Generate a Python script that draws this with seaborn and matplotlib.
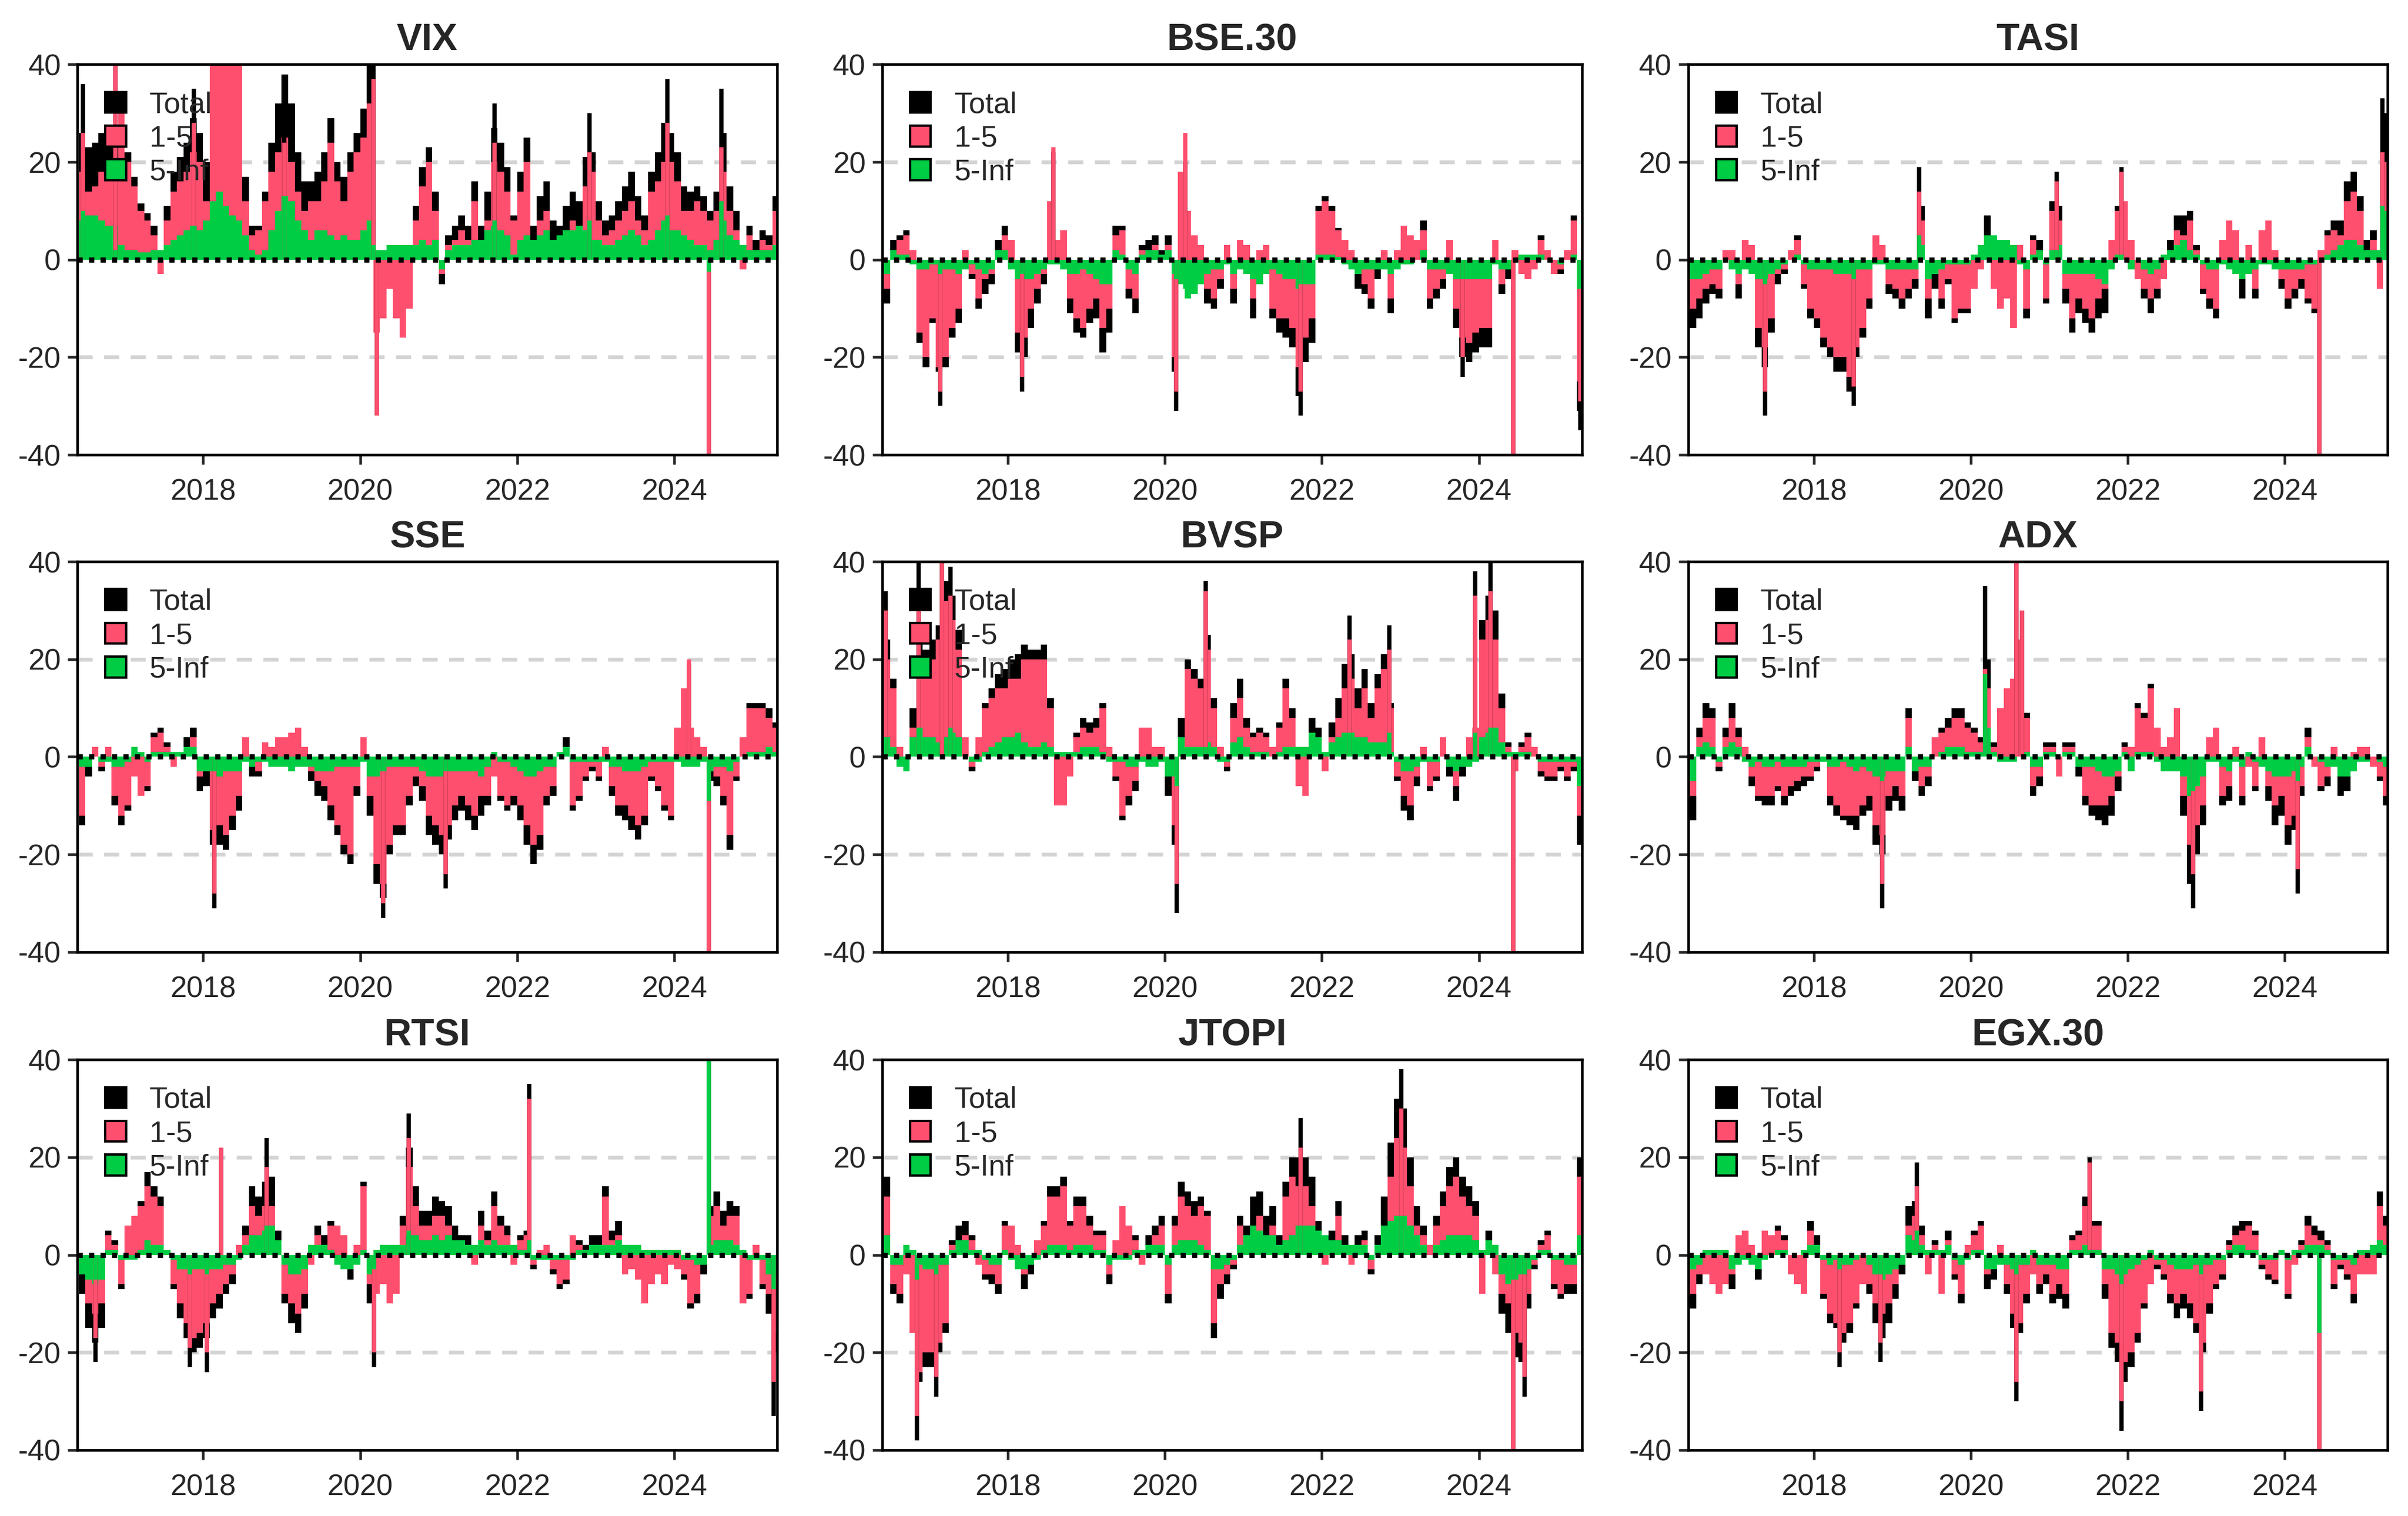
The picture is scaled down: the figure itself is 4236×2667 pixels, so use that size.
"""
Frequency-decomposed net connectedness, 3x3 panel figure.
"""

# %% Imports
import numpy as np
import pandas as pd
import seaborn as sns
from matplotlib import pyplot as plt
from matplotlib.patches import Patch

# %% Data (monthly readings, Jun 2016 - Apr 2025)
MONTHS = pd.period_range("2016-06", "2025-04", freq="M")
MONTH_X = MONTHS.year + (MONTHS.month - 1) / 12 + 1 / 24

PANELS = ["VIX", "BSE.30", "TASI", "SSE", "BVSP", "ADX", "RTSI", "JTOPI", "EGX.30"]

vix_short = [18, 14, 15, 18, 16, 18, 30,
             20, 15, 10, 8, 5, -3, 8, 14, 16, 18, 22, 20,
             12, 42, 42, 42, 42, 42, 12, 5, 6, 12, 18, 22,
             25, 20, 14, 10, 12, 12, 16, 24, 16, 12, 18, 22,
             25, 32, -15, -12, -6, -12, -16, -10, 8, 15, 20, 10,
             -3, 3, 4, 6, 4, 12, 3, 8, 20, 18, 14, 8,
             14, 20, 3, 8, 10, 4, 2, 5, 8, 5, 15, 18,
             8, 5, 6, 8, 10, 12, 8, 6, 14, 16, 20, 20,
             16, 10, 10, 12, 10, 8, 10, 18, 10, 6, -2, 5,
             2, 4, 3, 10]
vix_long = [8, 9, 9, 8, 7, 7, 3,
            2, 2, 1.5, 1.5, 2, 2, 3, 4, 5, 6, 7, 6,
            8, 12, 14, 11, 9, 8, 5, 2, 1, 2, 6, 10,
            13, 12, 8, 6, 4, 6, 6, 5, 4, 5, 4, 4,
            6, 8, 2, 2, 3, 3, 3, 3, 3, 4, 3, 4,
            -2, 2, 3, 3, 3, 4, 4, 6, 7, 6, 5, 1,
            4, 5, 4, 5, 6, 4, 5, 6, 6, 7, 6, 4,
            4, 3, 3, 4, 5, 6, 5, 3, 4, 6, 8, 6,
            6, 5, 4, 3, 3, 2, 4, 8, 5, 4, 3, 2,
            2, 2, 2, 3]

bse_short = [-6, 2, 4, 5, 2, -15, -20,
             -12, -22, -20, -14, -10, 2, -3, -8, -4, -3, 2, 5,
             4, -15, -16, -10, -6, -3, 12, 4, 6, -8, -12, -14,
             -10, -8, -14, -10, 5, 6, -6, -8, 2, 2, 3, 1,
             3, -20, 18, 10, 5, 3, -6, -8, -4, 3, -6, 4,
             3, -8, 2, 3, -10, -12, -12, -14, -22, -16, -12, 10,
             12, 10, 6, 4, 2, -3, -5, -8, -2, 2, -8, 2,
             7, 5, 4, 6, -8, -6, -4, 4, -10, -16, -17, -15,
             -14, -14, 4, -5, -2, 2, -3, -4, -2, 4, 2, -3,
             -2, 2, 8, -25]
bse_long = [-3, 2, 1, 1, -1, -2, -2,
            -1, -1, -2, -2, -3, -2, -1, -2, -3, -2, 2, 2,
            -2, -4, -4, -4, -3, -2, -1, -1, -2, -3, -3, -2,
            -3, -4, -5, -5, 2, 1, -2, -3, 1, 2, 2, 1,
            2, -3, -5, -8, -7, -5, -3, -2, -2, -1, -3, -2,
            -3, -4, -5, -3, -2, -3, -4, -4, -6, -5, -5, 1,
            1, 1, 0.5, -1, -2, -3, -2, -2, -2, -2, -3, -2,
            -1, -1, 0, 2, -2, -2, -2, -3, -4, -4, -4, -4,
            -4, -4, -1, -2, -2, 0, 1, 1, 1, 1, 0, 0,
            -1, 0, 1, -6]

tasi_short = [-10, -8, -6, -5, -6, 2, 2,
              -5, 4, 3, -14, -18, -12, -3, -2, 2, 4, -5, -10,
              -12, -16, -18, -20, -20, -24, -18, -14, -8, 5, 3, -5,
              -6, -8, -6, -4, 8, -8, -3, -8, -4, -12, -10, -10,
              -6, -2, 4, -6, -10, -8, -14, 3, -10, 4, 2, -8,
              10, 8, -6, -12, -8, -10, -12, -8, -6, 4, 10, 12,
              4, -4, -6, -8, -6, -4, 2, 6, 5, 8, 2, -6,
              -8, -10, 4, 8, 6, -4, 3, -6, 6, 8, 2, -4,
              -8, -6, -4, -8, -10, 2, 5, 6, 5, 12, 14, 10,
              2, 4, -6, 20]
tasi_long = [-4, -4, -3, -2, -2, 0, -2,
             -3, -2, -3, -4, -4, -3, -2, -1, 0, 1, -1, -2,
             -2, -2, -2, -3, -3, -3, -2, -2, -2, -1, -1, -2,
             -2, -2, -2, -2, 3, -4, -3, -2, -1, -1, -1, -1,
             1, 3, 5, 5, 4, 4, 3, -1, -2, 1, 2, -1,
             2, 3, -3, -3, -3, -3, -3, -4, -5, -2, 1, 0,
             -2, 0, -2, -3, -2, 1, 2, 3, 4, 2, 1, -1,
             -2, -2, -1, -2, -3, -4, -3, -2, -1, -1, -2, -2,
             -2, -2, -2, -1, -1, 0, 1, 2, 3, 4, 4, 3,
             2, 2, 2, 10]

sse_short = [-12, -2, 2, -2, 2, -8, -12,
             -10, -4, -8, -6, 4, 5, 2, -2, 0, 2, 4, -4,
             -3, -15, -14, -16, -12, -8, 4, -2, -3, 3, 2, 4,
             4, 5, 6, 2, -3, -5, -6, -10, -14, -18, -20, -6,
             4, -8, -22, -26, -18, -14, -14, -8, -4, -6, -12, -14,
             -16, -14, -10, -8, -10, -12, -8, -8, -4, -8, -10, -8,
             -10, -14, -18, -16, -8, -6, 0, 2, -10, -8, -4, -2,
             -4, 2, -6, -10, -10, -12, -14, -12, -4, -6, -10, -12,
             6, 14, 6, 4, 2, -2, -4, -8, -16, -4, 4, 10,
             10, 10, 8, 6]
sse_long = [-2, -2, 0, -1, -1, -2, -2,
            -1, 2, 1, -1, 1, 1, 1, 1, 1, 2, 2, -3,
            -3, -3, -4, -3, -3, -3, -1, -2, -1, -1, -2, -2,
            -2, -3, -2, -2, -2, -3, -3, -3, -2, -2, -2, -2,
            -1, -4, -4, -3, -2, -2, -2, -2, -2, -3, -4, -4,
            -4, -3, -3, -3, -3, -3, -4, -2, 1, -1, -1, -2,
            -3, -4, -4, -3, -2, -2, 1, 2, -1, -1, -1, -1,
            -1, -1, -2, -2, -3, -3, -3, -2, -1, -1, -1, -1,
            -1, -2, -2, -2, -1, -3, -2, -2, -3, -1, 0, 1,
            1, 1, 2, 1]

bvsp_short = [20, 14, 2, 0, 6, 18, 18,
              20, 24, 32, 28, 22, 4, -2, 4, 10, 12, 14, 14,
              16, 16, 20, 20, 20, 20, 10, -10, -10, -4, 4, 6,
              5, 6, 10, 2, -4, -12, -8, -5, 6, 6, 2, 2,
              -4, -14, 4, 18, 16, 14, 22, 10, 2, -2, 8, 12,
              6, 4, 5, 4, 2, 6, 14, 8, -6, -8, 3, 2,
              -3, 4, 8, 14, 16, 10, 14, 8, 14, 18, 10, -4,
              -8, -10, -4, 2, -6, -4, 4, -2, -6, -2, 4, 6,
              24, 28, 24, 10, 2, -3, 2, 4, 2, -3, -4, -4,
              -2, -4, -2, -12]
bvsp_long = [4, 2, -2, -3, 4, 6, 4,
             4, 3, 4, 5, 4, 0, -1, -1, 1, 2, 3, 4,
             4, 5, 3, 2, 2, 3, 2, 1, 1, 1, 1, 2,
             2, 2, 1, -1, -1, -1, -2, -2, -1, -2, -2, -1,
             -4, -4, 4, 2, 2, 2, 3, 2, -1, -1, 3, 4,
             2, 1, 1, 1, 0, 1, 2, 2, 2, 2, 5, 4,
             1, 3, 4, 5, 5, 4, 4, 3, 3, 3, 1, -1,
             -3, -3, -2, -1, -1, -1, 0, -2, -3, -2, -2, -1,
             4, 5, 6, 3, 1, 1, 1, 1, 0, -1, -1, -1,
             -1, -1, -1, -6]

adx_short = [-8, 4, 8, 8, -2, 4, 8,
             4, 2, -4, -8, -8, -8, -6, -8, -6, -5, -4, -4,
             -2, 0, -8, -10, -12, -12, -12, -10, -8, -14, -16, -8,
             -6, -8, 8, -2, -6, -4, 4, 5, 6, 8, 8, 6,
             5, 3, 14, 2, 10, 14, 16, 24, 8, -6, -4, 2,
             2, -4, 2, 2, -2, -8, -10, -10, -10, -8, -4, 2,
             2, 10, 8, 14, 6, 2, 4, 10, -8, -18, -14, -10,
             4, 6, -8, -6, 2, -8, -2, -6, 4, -6, -10, -8,
             -14, -12, -6, 4, -2, -6, -4, 2, -4, -3, 1, 2,
             2, -2, -4, -8]
adx_long = [-5, 2, 3, 2, -1, 2, 3,
            2, -1, -2, -1, -2, -2, -1, -2, -2, -2, -2, -1,
            -1, -1, -2, -2, -1, -2, -3, -2, -3, -4, -4, -3,
            -3, -3, 2, -3, -2, -2, 0, 1, 2, 2, 2, 1,
            1, 1, 6, 1, -1, -1, -1, 0, 1, -2, -2, 1,
            1, 0, 1, 1, -2, -2, -2, -3, -4, -4, -3, 1,
            -3, 1, 1, 1, -1, -3, -3, -3, -4, -8, -6, -4,
            -1, -1, -2, -3, -1, -2, 1, -1, -2, -3, -4, -4,
            -4, -3, -2, 2, 0, -1, -2, -2, -4, -4, -3, -1,
            -1, 0, -1, -2]

rtsi_short = [-4, -10, -12, -10, 4, 2, -6,
              6, 8, 10, 14, 12, 10, 0, -6, -10, -14, -17, -16,
              -14, -10, -8, -6, -4, 2, 4, 10, 8, 10, 10, 2,
              -8, -10, -12, -8, -2, 4, 2, 6, 6, 4, -2, 2,
              14, -6, -8, -6, -10, -8, 6, 18, 10, 6, 6, 8,
              8, 6, 3, 1, 2, -2, 6, 3, 10, 6, 4, -2,
              3, 4, -2, 1, 2, -3, -6, -5, 4, 2, 1, 2,
              2, 12, 3, 4, -4, -3, -5, -10, -6, -4, -6, -2,
              -3, -4, -10, -8, -2, 8, 10, 6, 8, 8, -10, -8,
              2, -6, -8, -16]
rtsi_long = [-4, -5, -6, -5, 1, 1, -1,
             -1, -1, 1, 3, 2, 2, 1, -1, -3, -3, -3, -3,
             -3, -3, -3, -2, -2, -1, 2, 4, 4, 5, 6, 3,
             -2, -4, -4, -3, 2, 2, 2, 1, -2, -3, -3, -2,
             1, -4, 1, 2, 2, 2, 2, 4, 4, 3, 3, 4,
             3, 4, 3, 3, 2, 2, 3, 2, 3, 2, 2, 2,
             1, 1, -1, -1, -1, -1, -1, -1, -1, 1, 1, 2,
             2, 2, 2, 3, 2, 2, 2, 1, 1, 1, 1, 1,
             1, -1, -1, -2, -2, 2, 3, 3, 3, 2, 1, -1,
             -1, -1, -4, -4]

jtopi_short = [12, -6, -8, -4, -16, -24, -20,
               -20, -18, -14, 2, 3, 4, 3, -2, -4, -4, -6, 6,
               6, 2, -4, -2, 3, 6, 12, 12, 14, 6, 10, 10,
               6, 4, 4, -4, 3, 10, 6, 3, -2, 2, 4, 6,
               -8, 6, 12, 10, 8, 10, 8, -14, -6, -4, -2, 6,
               2, 6, 8, 4, 6, 2, 12, 16, 14, 14, 10, 2,
               -2, 2, 8, 2, -2, 2, 3, -3, 2, 6, 16, 24,
               22, 14, 6, 4, 2, 6, 10, 14, 16, 12, 10, 8,
               -8, 2, -4, -8, -10, -16, -18, -8, -2, 2, 4, -6,
               -8, -6, -6, 16]
jtopi_long = [4, -2, -2, 2, 1, -2, -3,
              -3, -2, -2, 1, 3, 3, 1, 1, -1, -2, -2, 1,
              -1, -3, -3, -2, -1, 1, 2, 2, 2, 1, 2, 2,
              2, 1, 1, -2, -1, -1, -1, 1, 1, 2, 2, 2,
              -2, 2, 3, 3, 3, 2, 1, -3, -3, -2, -1, 2,
              4, 6, 5, 4, 4, 2, 3, 4, 6, 6, 6, 5,
              4, 3, 3, 2, 2, 2, 2, -1, 2, 6, 7, 8,
              8, 6, 4, 2, 0, 2, 3, 4, 4, 4, 4, 3,
              1, 3, 2, -4, -6, -5, -4, -3, -1, 1, 1, -1,
              -1, -2, -2, 4]

egx_short = [-8, -4, -4, -6, -8, -6, -4,
             4, 5, 2, -2, 5, 4, 5, 3, -4, -6, -8, 5,
             2, -8, -12, -14, -16, -14, -10, -6, -6, -10, -12, -10,
             -6, -2, 6, 8, 4, -4, 2, -8, 3, -4, -8, 2,
             4, 6, -4, -2, 2, -6, -12, -14, -8, -4, -6, -4,
             -8, -6, -8, 3, 4, 10, 6, 6, -6, -16, -18, -22,
             -20, -16, -10, -6, -2, -4, -8, -10, -8, -10, -14, -18,
             -10, -6, -4, 2, 4, 5, 6, 4, -2, -4, -5, 0,
             -8, -2, 2, 6, 4, 3, 2, -6, -2, -4, -8, -4,
             -4, -4, 10, 6]
egx_long = [-3, -2, 1, 1, 1, 1, -3,
            -2, -1, -2, -3, -1, 0, 1, 1, 0, 0, 1, 2,
            2, -1, -2, -1, -2, -2, -1, 0, -2, -4, -5, -4,
            -3, -2, 4, 3, 2, 1, 1, 1, 2, -1, -2, -1,
            1, 1, -3, -3, -2, -2, -3, -2, -2, 1, -2, -2,
            -2, -3, -3, 1, 1, 2, 1, 1, -3, -3, -4, -4,
            -3, -2, -1, 1, -1, -1, -2, -3, -3, -3, -2, -2,
            -2, -1, -1, 1, 2, 2, 1, 1, -1, -1, -1, 1,
            -1, 1, 1, 2, 2, 2, 1, -1, -1, -1, -2, 1,
            1, 2, 3, 2]

# single-day spikes (peaks that stick out of the monthly level)
spike_panel = (["VIX"] * 11 + ["BSE.30"] * 9 + ["TASI"] * 7 + ["SSE"] * 5 + ["BVSP"] * 11
               + ["ADX"] * 6 + ["RTSI"] * 10 + ["JTOPI"] * 6 + ["EGX.30"] * 8)
spike_x = [2016.47, 2016.88, 2017.88, 2019.03, 2020.17, 2020.21, 2021.71, 2022.92, 2023.91, 2024.44, 2024.60,
           2017.14, 2018.18, 2018.58, 2020.14, 2020.26, 2021.73, 2023.79, 2024.44, 2025.29,
           2017.38, 2018.51, 2019.34, 2021.09, 2021.92, 2024.44, 2025.24,
           2018.14, 2020.29, 2021.09, 2024.19, 2024.44,
           2016.44, 2016.86, 2017.16, 2017.27, 2020.15, 2020.52, 2022.35, 2022.86, 2023.95, 2024.15, 2024.44,
           2018.87, 2020.18, 2020.58, 2020.65, 2022.83, 2024.16,
           2016.63, 2017.83, 2018.05, 2018.23, 2018.81, 2020.18, 2020.62, 2022.15, 2024.44, 2025.27,
           2016.84, 2017.09, 2021.73, 2023.01, 2024.44, 2024.58,
           2018.33, 2018.85, 2019.31, 2020.58, 2021.51, 2021.92, 2022.93, 2024.44]
spike_short = [26, 40, 28, 24, 37, -32, 24, 22, 28, -40, 23,
               -27, -24, 23, -27, 26, -27, -20, -40, -29,
               -27, -26, 14, 16, 18, -40, 22,
               -28, -30, -24, 20, -40,
               30, 34, 40, 33, -26, 34, 24, 22, 33, 34, -40,
               -26, 18, 40, 30, -24, -23,
               -17, -19, -20, 22, 18, -20, 24, 32, 0, -26,
               -33, -25, 22, 30, -40, -25,
               -20, -18, 14, -26, 19, -30, -28, -40]
spike_long = [10, 2, 7, 13, 3, 0, 8, 8, 9, -2.5, 12,
              -3, -3, -1, -4, -6, -5, -4, 0, -6,
              -5, -4, 5, 2, 1, 0, 11,
              -3, -3, -3, -1, -9,
              4, 6, 0, 6, -6, 2, 5, 5, 5, 6, 0,
              -5, 17, 0, 0, -7, -5,
              -5, -4, -4, 0, 6, -3, 5, 3, 40, -7,
              -5, -4, 6, 8, -5, -4,
              -3, -4, 5, -4, 1, -6, -4, -16]

SHORT = dict(zip(PANELS, [vix_short, bse_short, tasi_short, sse_short, bvsp_short,
                          adx_short, rtsi_short, jtopi_short, egx_short]))
LONG = dict(zip(PANELS, [vix_long, bse_long, tasi_long, sse_long, bvsp_long,
                         adx_long, rtsi_long, jtopi_long, egx_long]))

# %% Style
COLORS = {"Total": "black", "1-5": "#FF4F6E", "5-Inf": "#00CC44"}
sns.set_style("ticks")
plt.rcParams["font.family"] = ["Liberation Sans", "DejaVu Sans"]
plt.rcParams["axes.unicode_minus"] = False

LEFTS = [0.0322, 0.3664, 0.7011]
BOTTOMS = [0.700, 0.372, 0.0435]
WIDTH, HEIGHT = 0.2905, 0.2575


# %% Plotting
def plot_panel(ax, name):
    df = pd.DataFrame({"date": MONTH_X, "1-5": SHORT[name], "5-Inf": LONG[name]})
    df["Total"] = df["1-5"] + df["5-Inf"]
    sp = pd.DataFrame({"panel": spike_panel, "date": spike_x, "1-5": spike_short, "5-Inf": spike_long})
    sp = sp[sp.panel == name].copy()
    sp["Total"] = sp["1-5"] + sp["5-Inf"]

    for lvl in [20, -20]:
        ax.axhline(lvl, color="#D3D3D3", lw=1.6, ls=(0, (4, 3)), zorder=0)
    for col in ["Total", "1-5", "5-Inf"]:
        sns.barplot(df, x="date", y=col, native_scale=True, width=1.0, color=COLORS[col],
                    saturation=1, errorbar=None, edgecolor="none", linewidth=0, ax=ax)
        if len(sp):
            ax.vlines(sp["date"], 0, sp[col], color=COLORS[col], lw=1.8)
    ax.axhline(0, color="black", lw=2.2, ls=(0, (1, 1.2)), zorder=5)

    ax.set_xlim(2016.40, 2025.31)
    ax.set_ylim(-40, 40)
    ax.set_xticks([2018, 2020, 2022, 2024])
    ax.set_xticklabels(["2018", "2020", "2022", "2024"])
    ax.set_yticks([-40, -20, 0, 20, 40])
    ax.set_yticklabels(["-40", "-20", "0", "20", "40"])
    ax.tick_params(labelsize=12.5, length=4, width=1.1, pad=3)
    ax.tick_params(axis="x", pad=6)
    ax.set_xlabel("")
    ax.set_ylabel("")
    for s in ax.spines.values():
        s.set_visible(True)
        s.set_linewidth(1.1)
        s.set_color("black")
    ax.set_title(name, fontsize=16, fontweight="bold", pad=6)

    handles = [Patch(facecolor=COLORS[k], edgecolor="black", linewidth=1.0) for k in ["Total", "1-5", "5-Inf"]]
    ax.legend(handles, ["Total", "1-5", "5-Inf"], loc="upper left", bbox_to_anchor=(0.01, 0.985),
              frameon=False, fontsize=12.5, handlelength=0.7, handleheight=0.7,
              handletextpad=0.8, labelspacing=0.2, borderpad=0.2)


fig = plt.figure(figsize=(14.12, 8.89), dpi=300)
for i, name in enumerate(PANELS):
    r, c = divmod(i, 3)
    ax = fig.add_axes([LEFTS[c], BOTTOMS[r], WIDTH, HEIGHT])
    plot_panel(ax, name)

fig.savefig("out.png", dpi=300)
